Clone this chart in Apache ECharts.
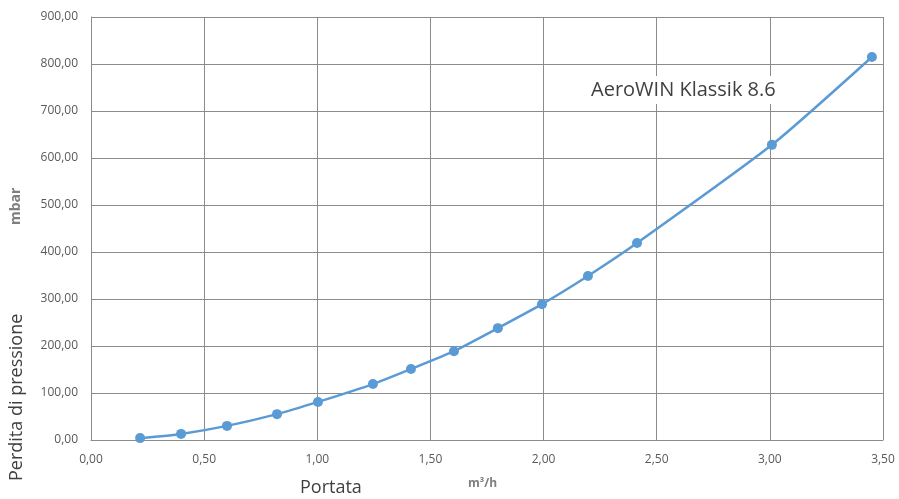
<!DOCTYPE html>
<html><head><meta charset="utf-8">
<script src="https://cdn.jsdelivr.net/npm/echarts@6/dist/echarts.min.js"></script>
<style>html,body{margin:0;padding:0;background:#fff}#c{width:899px;height:499px}</style>
</head><body><div id="c"></div>
<script>
const seriesName = 'AeroWIN Klassik 8.6';
const flowRates = [0.217, 0.398, 0.601, 0.822, 1.003, 1.246, 1.414, 1.604, 1.798, 1.993, 2.196, 2.413, 3.009, 3.451];
const pressureDrops = [4, 13, 30, 55, 81, 119, 151, 189, 238, 289, 349, 419, 628, 815];
const xTitle = 'Portata', xUnit = 'm³/h', yTitle = 'Perdita di pressione', yUnit = 'mbar';

const fmt = v => v.toFixed(2).replace('.', ',');
const chart = echarts.init(document.getElementById('c'));
const labelColor = '#595959', gridColor = '#8c8c8c';
chart.setOption({
  animation: false,
  textStyle: {fontFamily: 'Open Sans'},
  grid: {left: 91, right: 16, top: 17, bottom: 59},
  legend: {
    data: [{name: seriesName, icon: 'none'}],
    left: 578, top: 76, itemWidth: 0, itemGap: 0,
    backgroundColor: '#fff', padding: [4, 8, 4, 8],
    textStyle: {fontSize: 20, color: '#404040', fontFamily: 'Open Sans'}
  },
  xAxis: {
    type: 'value', min: 0, max: 3.5, interval: 0.5,
    axisLine: {show: true, lineStyle: {color: gridColor}},
    axisTick: {show: false},
    axisLabel: {formatter: fmt, color: labelColor, fontSize: 12, margin: 14},
    splitLine: {show: true, lineStyle: {color: gridColor, width: 1}}
  },
  yAxis: {
    type: 'value', min: 0, max: 900, interval: 100,
    axisLine: {show: true, lineStyle: {color: gridColor}},
    axisTick: {show: false},
    axisLabel: {formatter: fmt, color: labelColor, fontSize: 12, margin: 13},
    splitLine: {show: true, lineStyle: {color: gridColor, width: 1}}
  },
  graphic: [
    {type: 'text', rotation: Math.PI/2, position: [8, 481], style: {text: yTitle, fill: '#404040', font: '18px "Open Sans"'}},
    {type: 'text', rotation: Math.PI/2, position: [9, 225], style: {text: yUnit, fill: '#7f7f7f', font: 'bold 14px "Open Sans"'}},
    {type: 'text', position: [300, 479], style: {text: xTitle, fill: '#404040', font: '18px "Open Sans"'}},
    {type: 'text', position: [468, 478], style: {text: xUnit, fill: '#7f7f7f', font: 'bold 12px "Open Sans"'}}
  ],
  series: [{
    name: seriesName, type: 'line', smooth: 0.2,
    data: flowRates.map((x, i) => [x, pressureDrops[i]]),
    symbol: 'circle', symbolSize: 10,
    lineStyle: {color: '#5b9bd5', width: 2.5},
    itemStyle: {color: '#5b9bd5'}
  }]
});
</script></body></html>
